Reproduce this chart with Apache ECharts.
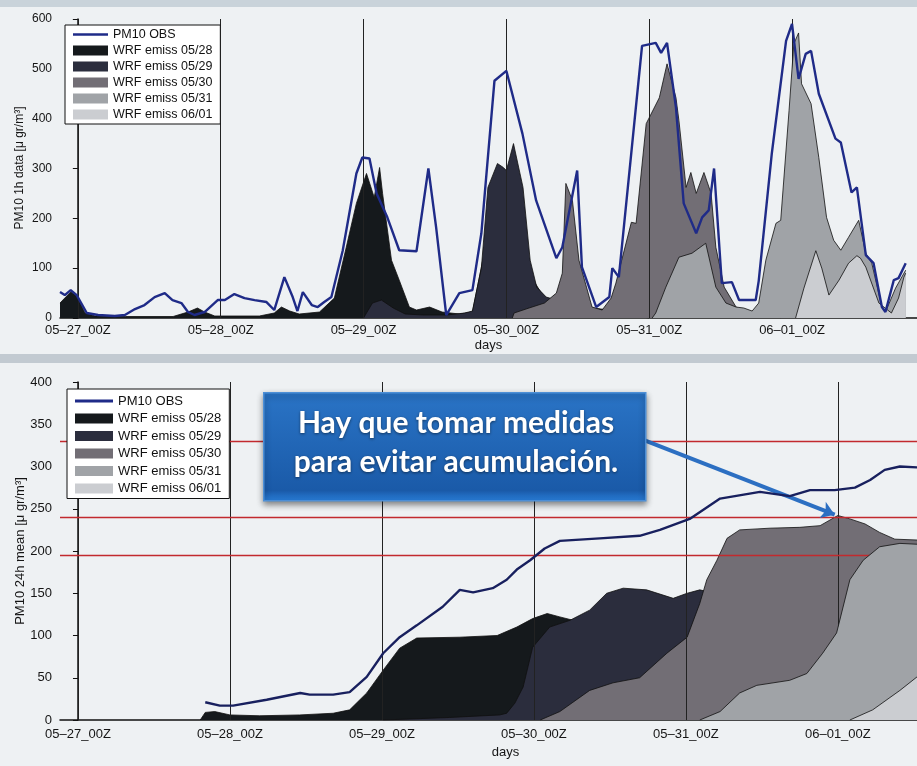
<!DOCTYPE html>
<html>
<head>
<meta charset="utf-8">
<script src="https://cdn.jsdelivr.net/npm/echarts@6.0.0/dist/echarts.min.js"></script>
<style>
  html, body { margin: 0; padding: 0; background: #eef1f3; }
  #chart { width: 917px; height: 766px; }
</style>
</head>
<body>
<div id="chart"></div>
<script>
// hours after 05-27_00Z for every value
const dayHours = [0, 24, 48, 72, 96, 120];
const dayLabels = ['05–27_00Z', '05–28_00Z', '05–29_00Z', '05–30_00Z', '05–31_00Z', '06–01_00Z'];
const obsName = 'PM10 OBS';
const wrfNames = ['WRF emiss 05/28', 'WRF emiss 05/29', 'WRF emiss 05/30', 'WRF emiss 05/31', 'WRF emiss 06/01'];
const limitValues = [330, 240, 195];
const calloutText = 'Hay que tomar medidas\npara evitar acumulación.';
const arrowFrom = [89.5, 331];
const arrowTo = [119.5, 243];

// top panel: PM10 1h data
const obs1h = [[-3,52],[-2.2,46],[-1.2,56],[-0.2,46],[1.5,10],[3.4,6],[6.2,4],[7.9,6],[9.6,18],[11.2,26],[12.9,42],[14.6,50],[15.9,36],[17.4,30],[18.5,12],[19.6,6],[21.3,12],[23.5,36],[24.7,36],[26.3,48],[28,40],[29.7,36],[31.7,32],[33,16],[34.7,82],[36.1,42],[36.9,14],[37.8,52],[39.3,26],[40.3,22],[41.4,32],[42.6,42],[44.5,135],[46.8,290],[47.8,322],[49,320],[50.2,250],[52,202],[54,136],[56.9,134],[58.9,300],[60.2,182],[61.9,6],[64.1,50],[66.3,56],[67.8,170],[70,476],[72,496],[74.7,370],[77,236],[80.4,120],[81.4,142],[83.9,296],[84.7,102],[87.1,22],[89.3,42],[89.8,100],[90.9,82],[94.8,546],[97.1,552],[98,532],[99,552],[100.5,422],[101.8,230],[103.9,170],[104.9,202],[106,216],[106.9,300],[108.2,70],[109.9,72],[111.1,36],[113.9,36],[114.4,74],[116.6,330],[119,556],[120,590],[121.1,480],[122.3,530],[123.2,536],[124.5,450],[127.3,360],[128.2,352],[130,252],[130.9,262],[132.4,126],[133.7,110],[135.1,22],[135.7,12],[137.1,76],[137.9,80],[139.1,110]];
const wrf0528_1h = [[-3,30],[-2.2,40],[-1.2,52],[-0.2,45],[1.2,10],[2.9,4],[8,3],[16,3],[18.5,12],[20.1,20],[21.3,12],[23,4],[30.5,4],[33,10],[34.2,22],[35.6,14],[37.2,8],[40.6,12],[43.1,40],[45.1,142],[46.8,230],[48.5,290],[49.8,242],[50.7,302],[51.2,250],[52.7,116],[54,76],[55.7,22],[56.9,16],[59.1,22],[61.2,12],[64.1,8],[66.3,12],[68.6,150],[70.8,250],[73.3,230],[75.8,90],[78.4,40],[80.9,30],[84,20],[90,10],[96,0]];
const wrf0529_1h = [[48,0],[49.5,30],[51,36],[53,20],[55,8],[58,6],[62,6],[65,10],[66.3,14],[67.8,100],[68.9,262],[70.5,310],[71.5,302],[72,296],[73.2,350],[74.8,262],[76,116],[77.1,62],[78.7,42],[80.4,36],[83,25],[90,15],[96,0]];
const wrf0530_1h = [[73,0],[73.3,10],[75.8,20],[78.4,30],[80.4,50],[81.4,90],[82,270],[83.1,236],[84.2,116],[86.4,22],[88.1,16],[89.6,40],[90.4,70],[93,192],[93.8,190],[95.5,390],[97.7,442],[99,510],[100.5,442],[101,396],[102.2,262],[103,292],[103.9,250],[105.2,292],[106.4,250],[107.2,142],[108.6,62],[110.6,22],[112.2,10],[114.4,12],[116,20],[118,0]];
const wrf0531_1h = [[96.5,0],[97.1,10],[98.8,62],[101,122],[103.2,130],[105.5,150],[107.2,62],[108.9,30],[110.6,22],[111.9,20],[113.3,14],[114.4,30],[115.6,116],[117.3,190],[118.1,196],[119.5,416],[120.3,550],[121.1,572],[121.6,470],[123.2,430],[124.5,322],[125.8,202],[127,156],[128.2,136],[129.5,162],[131.2,196],[132.4,130],[133.4,110],[135.1,22],[135.7,12],[137.4,60],[139.1,96]];
const wrf0601_1h = [[120.6,0],[122,60],[124,135],[125,100],[126.2,46],[127.9,76],[129.5,110],[130.9,125],[131.5,120],[132.4,102],[134.6,30],[136.7,10],[137.9,40],[138.8,82],[139.1,90]];

// bottom panel: PM10 24h mean
const obs24h = [[20.1,21],[22.4,17],[24.5,17],[29.8,24],[35.1,32],[36.6,30],[40.3,30],[42.9,33],[45.6,51],[48.2,79],[50.8,98],[53.5,112],[57.6,134],[60.3,154],[62.4,151],[65.5,156],[67.7,166],[69.3,178],[71.4,189],[73.7,203],[76.1,212],[82.4,215],[88.7,218],[91.9,225],[96.6,238],[101.4,262],[107.7,270],[112.4,265],[115.6,272],[119.5,272],[122.7,275],[125.1,284],[127.4,296],[129.8,300],[132.5,299]];
const wrf0528_24h = [[19.3,0],[20.1,9],[21.6,10],[24,6],[28.7,5],[35,6],[40.3,8],[42.9,12],[45.6,32],[48.2,59],[50.8,85],[53.5,97],[60.3,98],[66.2,100],[69.3,110],[71.8,120],[74.1,126],[76.1,122],[78.2,118],[82.4,112],[90,110],[132.5,110]];
const wrf0529_24h = [[48.2,0],[58.7,3],[66.6,6],[67.7,8],[69,20],[70.3,39],[71.8,86],[74.5,110],[77.7,118],[80.8,130],[83.5,150],[86.1,156],[89.8,154],[94,144],[96.2,150],[98.2,154],[100.6,150],[132.5,150]];
const wrf0530_24h = [[73,0],[76.1,10],[80.8,35],[84.5,44],[88.7,50],[93,79],[96.2,98],[98.2,138],[99.3,166],[100.9,189],[102.5,215],[104.5,225],[109.3,227],[114,228],[117.2,230],[120,242],[121.9,238],[124.3,232],[126.6,222],[129,214],[132.5,213]];
const wrf0531_24h = [[98.2,0],[101.4,10],[104.5,32],[107.2,41],[112.4,47],[115.1,55],[117.6,79],[119.8,103],[121.9,166],[124,189],[126.6,205],[129.8,209],[132.5,208]];
const wrf0601_24h = [[121.9,0],[125.5,12],[129.8,35],[132.5,51]];

const wrfColors = ['#15191c', '#2b2d3d', '#726e75', '#a0a3a7', '#cbcdd1'];
const font = 'Liberation Sans, Arial, sans-serif';

const chart = echarts.init(document.getElementById('chart'));

// later runs are drawn over earlier ones, edges included
function areaSeries(name, data, idx, order) {
  return {
    name: name,
    type: 'line',
    xAxisIndex: idx,
    yAxisIndex: idx,
    z: 2 + order,
    data: data,
    showSymbol: false,
    symbol: 'none',
    itemStyle: { color: wrfColors[order] },
    lineStyle: { color: '#101010', width: 0.8 },
    areaStyle: { color: wrfColors[order], opacity: 1 },
    emphasis: { disabled: true }
  };
}

function xAxisFor(idx, min, max, labelMargin, nameGap) {
  return {
    type: 'value',
    gridIndex: idx,
    min: min,
    max: max,
    axisLine: { lineStyle: { color: '#111', width: 1.5 } },
    axisTick: { show: false },
    splitLine: { show: false },
    axisLabel: {
      customValues: dayHours,
      formatter: v => dayLabels[dayHours.indexOf(v)],
      color: '#151515',
      fontSize: 13,
      fontFamily: font,
      margin: labelMargin
    },
    name: 'days',
    nameLocation: 'middle',
    nameGap: nameGap,
    nameTextStyle: { color: '#151515', fontSize: 13, fontFamily: font, padding: idx === 1 ? [0, 0, 0, 34] : 0 }
  };
}

function yAxisFor(idx, max, interval, fontSize) {
  return {
    type: 'value',
    gridIndex: idx,
    min: 0,
    max: max,
    interval: interval,
    axisLine: { show: true, lineStyle: { color: '#111', width: 1.5 } },
    axisTick: { show: true, inside: false, length: 5, lineStyle: { color: '#111' } },
    splitLine: { show: false },
    axisLabel: { color: '#151515', fontSize: fontSize, fontFamily: font, margin: 8 }
  };
}

function legendFor(left, top, fontSize, lineHeight, gap, iconWidth, pad) {
  return {
    orient: 'vertical',
    left: left,
    top: top,
    z: 20,
    backgroundColor: '#ffffff',
    borderColor: '#111',
    borderWidth: 1,
    borderRadius: 0,
    padding: pad,
    itemWidth: iconWidth,
    itemHeight: 10,
    itemGap: gap,
    selectedMode: false,
    textStyle: { color: '#111', fontSize: fontSize, lineHeight: lineHeight, fontFamily: font },
    data: [{ name: obsName, icon: 'path://M0,0H40V3H0Z' }].concat(wrfNames.map(n => ({ name: n, icon: 'rect' })))
  };
}

const dayLines = dayHours.map(h => ({ xAxis: h, lineStyle: { color: '#222', width: 1, type: 'solid' } }));
const redLines = limitValues.map(v => ({ yAxis: v, lineStyle: { color: '#c22a2e', width: 1.3, type: 'solid' } }));
const arrowLine = [
  { coord: arrowFrom, symbol: 'none', lineStyle: { color: '#2c6fc2', width: 4, type: 'solid' } },
  { coord: arrowTo, symbol: 'arrow', symbolSize: 13, lineStyle: { color: '#2c6fc2', width: 4, type: 'solid' } }
];

function obsSeries(data, idx, color, marks) {
  return {
    name: obsName,
    type: 'line',
    xAxisIndex: idx,
    yAxisIndex: idx,
    z: 10,
    data: data,
    showSymbol: false,
    symbol: 'none',
    itemStyle: { color: color },
    lineStyle: { color: color, width: 2.4 },
    emphasis: { disabled: true },
    markLine: { silent: true, symbol: ['none', 'none'], label: { show: false }, data: marks }
  };
}

const topSeries = [
  areaSeries(wrfNames[0], wrf0528_1h, 0, 0),
  areaSeries(wrfNames[1], wrf0529_1h, 0, 1),
  areaSeries(wrfNames[2], wrf0530_1h, 0, 2),
  areaSeries(wrfNames[3], wrf0531_1h, 0, 3),
  areaSeries(wrfNames[4], wrf0601_1h, 0, 4),
  obsSeries(obs1h, 0, '#1f2b88', dayLines)
];

const bottomSeries = [
  areaSeries(wrfNames[0], wrf0528_24h, 1, 0),
  areaSeries(wrfNames[1], wrf0529_24h, 1, 1),
  areaSeries(wrfNames[2], wrf0530_24h, 1, 2),
  areaSeries(wrfNames[3], wrf0531_24h, 1, 3),
  areaSeries(wrfNames[4], wrf0601_24h, 1, 4),
  obsSeries(obs24h, 1, '#18205e', dayLines.concat(redLines).concat([arrowLine]))
];

chart.setOption({
  animation: false,
  backgroundColor: '#eef1f3',
  grid: [
    { left: 60, top: 19, width: 857, height: 299, outerBoundsMode: 'none' },
    { left: 60, top: 382, width: 857, height: 338, outerBoundsMode: 'none' }
  ],
  xAxis: [xAxisFor(0, -3, 141, 6, 21), xAxisFor(1, -2.84, 132.5, 8, 26)],
  yAxis: [yAxisFor(0, 600, 100, 12), yAxisFor(1, 400, 50, 13)],
  legend: [
    legendFor(65, 25, 12.5, 13, 3, 35, [3, 8, 3, 8]),
    legendFor(67, 389, 13, 14, 3.5, 38, [5, 8, 3, 8])
  ],
  graphic: [
    { type: 'rect', left: 0, top: 0, z: 0, shape: { width: 917, height: 7 }, style: { fill: '#c9d3da' } },
    { type: 'rect', left: 0, top: 354, z: 0, shape: { width: 917, height: 9 }, style: { fill: '#c2cad1' } },
    {
      type: 'text', x: 20, y: 168, rotation: Math.PI / 2, z: 10,
      style: { text: 'PM10 1h data [μ gr/m³]', font: '12px ' + font, fill: '#151515', align: 'center', verticalAlign: 'middle' }
    },
    {
      type: 'text', x: 20, y: 551, rotation: Math.PI / 2, z: 10,
      style: { text: 'PM10 24h mean [μ gr/m³]', font: '13px ' + font, fill: '#151515', align: 'center', verticalAlign: 'middle' }
    },
    {
      type: 'rect', left: 263, top: 392, z: 30,
      shape: { width: 382, height: 108 },
      style: {
        fill: new echarts.graphic.LinearGradient(0, 0, 0, 1, [
          { offset: 0, color: '#2a74c6' },
          { offset: 0.9, color: '#1a5aa8' },
          { offset: 1, color: '#2a80dc' }
        ]),
        stroke: '#4d8fd6',
        lineWidth: 1.5,
        shadowBlur: 6,
        shadowOffsetY: 3,
        shadowColor: 'rgba(0,0,0,0.45)'
      }
    },
    {
      type: 'text', x: 456, y: 443, z: 31,
      style: {
        text: calloutText,
        font: 'bold 30px Lato, "Open Sans", sans-serif',
        lineHeight: 39,
        fill: '#ffffff',
        align: 'center',
        verticalAlign: 'middle',
        textShadowBlur: 3,
        textShadowColor: 'rgba(0,0,0,0.5)',
        textShadowOffsetY: 1
      }
    }
  ],
  series: topSeries.concat(bottomSeries)
});
</script>
</body>
</html>
